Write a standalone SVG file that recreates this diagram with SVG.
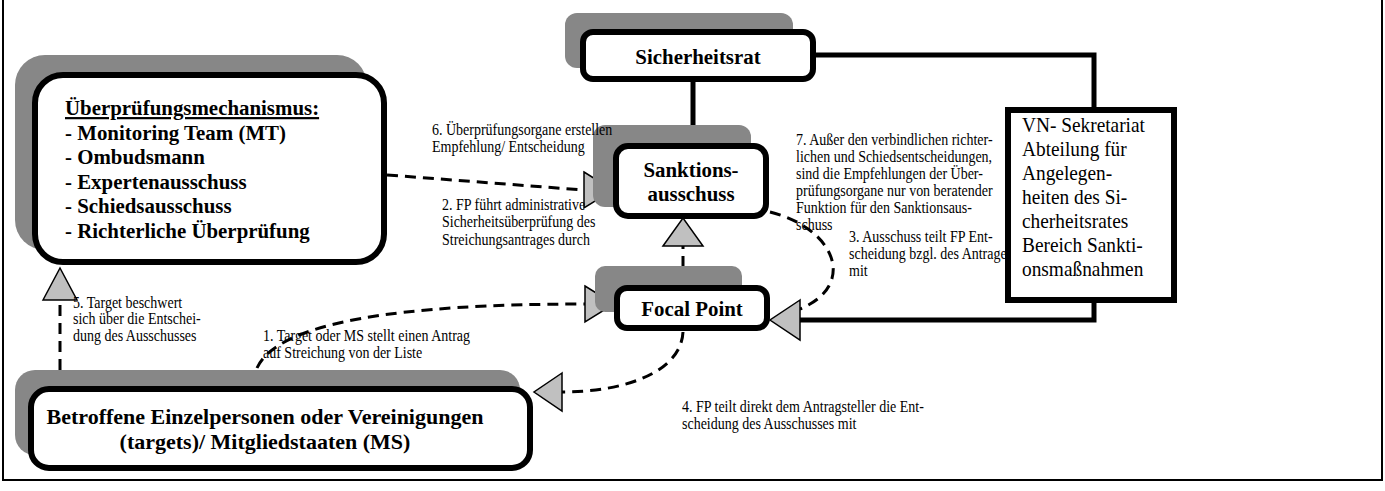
<svg xmlns="http://www.w3.org/2000/svg" width="1385" height="491" viewBox="0 0 1385 491">
<style>
.shadow{fill:#878787;stroke:none}
.box{fill:#fff;stroke:#000;stroke-width:6}
.bt{font-family:"Liberation Serif","Times New Roman","DejaVu Serif",serif;font-weight:bold;font-size:22px;fill:#000}
.rt{font-family:"Liberation Serif","Times New Roman","DejaVu Serif",serif;font-size:21.5px;fill:#000}
.lb{font-family:"Liberation Serif","Times New Roman","DejaVu Serif",serif;font-size:16px;fill:#000}
.solid{fill:none;stroke:#000;stroke-width:5}
.dash{fill:none;stroke:#000;stroke-width:3;stroke-dasharray:11 7}
.arr{fill:#c0c0c0;stroke:#000;stroke-width:1.5;stroke-linejoin:miter}
.frame{fill:none;stroke:#000;stroke-width:2}
</style>
<rect width="1385" height="491" fill="#fff"/>
<polyline class="frame" points="3,0 3,480 1382,480 1382,0"/>

<g id="connectors">
  <!-- Sicherheitsrat to Sanktionsausschuss -->
  <line class="solid" x1="693" y1="80" x2="693" y2="127"/>
  <!-- Sicherheitsrat to VN -->
  <polyline class="solid" points="815,55 1094,55 1094,110"/>
  <!-- VN to Focal Point -->
  <polyline class="solid" points="1094,300 1094,320 800,320"/>
  <!-- 6: Überprüfung to Sanktions -->
  <path class="dash" d="M387,175 L584,190"/>
  <polygon class="arr" points="584,172 613,190 584,208"/>
  <!-- 2: Focal to Sanktions -->
  <line class="dash" x1="683" y1="267" x2="683" y2="246"/>
  <polygon class="arr" points="663,246 683,218 703,246"/>
  <!-- 3: Sanktions to Focal -->
  <path class="dash" d="M770,212 C835,228 858,285 800,309"/>
  <polygon class="arr" points="800,300 770,320 800,340"/>
  <!-- 1: Betroffene to Focal -->
  <path class="dash" d="M257,368 C278,322 400,304 585,304"/>
  <polygon class="arr" points="585,286 614,304 585,322"/>
  <!-- 4: Focal to Betroffene -->
  <path class="dash" d="M683,332 C681,372 625,392 562,392"/>
  <polygon class="arr" points="562,373 534,392 562,411"/>
  <!-- 5: Betroffene to Überprüfung -->
  <line class="dash" x1="60" y1="370" x2="60" y2="300"/>
  <polygon class="arr" points="43,300 60,268 77,300"/>
</g>

<g id="node-ueberpruefung">
  <rect class="shadow" x="15" y="55" width="352" height="195" rx="30"/>
  <rect class="box" x="35" y="75" width="349" height="187" rx="28"/>
  <g transform="translate(65,0) scale(0.95,1)">
    <text class="bt"><tspan x="0" y="115" text-decoration="underline">Überprüfungsmechanismus:</tspan><tspan x="0" y="140">- Monitoring Team (MT)</tspan><tspan x="0" y="164.5">- Ombudsmann</tspan><tspan x="0" y="189">- Expertenausschuss</tspan><tspan x="0" y="213.5">- Schiedsausschuss</tspan><tspan x="0" y="238">- Richterliche Überprüfung</tspan></text>
  </g>
</g>

<g id="node-sicherheitsrat">
  <rect class="shadow" x="565" y="13" width="228" height="55" rx="12"/>
  <rect class="box" x="583" y="32" width="230" height="47" rx="10"/>
  <g transform="translate(698,0) scale(0.95,1)">
    <text class="bt" text-anchor="middle" x="0" y="64">Sicherheitsrat</text>
  </g>
</g>

<g id="node-sanktionsausschuss">
  <rect class="shadow" x="593" y="125" width="158" height="82" rx="12"/>
  <rect class="box" x="616" y="146" width="150" height="70" rx="12"/>
  <g transform="translate(691,0) scale(0.95,1)">
    <text class="bt" text-anchor="middle"><tspan x="0" y="177">Sanktions-</tspan><tspan x="0" y="201">ausschuss</tspan></text>
  </g>
</g>

<g id="node-focal">
  <rect class="shadow" x="595" y="266" width="147" height="46" rx="10"/>
  <rect class="box" x="617" y="288" width="150" height="40" rx="10"/>
  <g transform="translate(692,0) scale(0.95,1)">
    <text class="bt" text-anchor="middle" x="0" y="316">Focal Point</text>
  </g>
</g>

<g id="labels">
  <g transform="translate(432,0) scale(0.875,1)">
    <text class="lb"><tspan x="0" y="135">6. Überprüfungsorgane erstellen</tspan><tspan x="0" y="152">Empfehlung/ Entscheidung</tspan></text>
  </g>
  <g transform="translate(796,0) scale(0.875,1)">
    <text class="lb"><tspan x="0" y="145">7. Außer den verbindlichen richter-</tspan><tspan x="0" y="162">lichen und Schiedsentscheidungen,</tspan><tspan x="0" y="179">sind die Empfehlungen der Über-</tspan><tspan x="0" y="196">prüfungsorgane nur von beratender</tspan><tspan x="0" y="213">Funktion für den Sanktionsaus-</tspan><tspan x="0" y="230">schuss</tspan></text>
  </g>
  <g transform="translate(442,0) scale(0.875,1)">
    <text class="lb"><tspan x="0" y="210">2. FP führt administrative</tspan><tspan x="0" y="227.5">Sicherheitsüberprüfung des</tspan><tspan x="0" y="245">Streichungsantrages durch</tspan></text>
  </g>
  <g transform="translate(849,0) scale(0.875,1)">
    <text class="lb"><tspan x="0" y="242">3. Ausschuss teilt FP Ent-</tspan><tspan x="0" y="259">scheidung bzgl. des Antrages</tspan><tspan x="0" y="276">mit</tspan></text>
  </g>
  <g transform="translate(73,0) scale(0.875,1)">
    <text class="lb"><tspan x="0" y="308">5. Target beschwert</tspan><tspan x="0" y="324.5">sich über die Entschei-</tspan><tspan x="0" y="341">dung des Ausschusses</tspan></text>
  </g>
  <g transform="translate(263,0) scale(0.875,1)">
    <text class="lb"><tspan x="0" y="341">1. Target oder MS stellt einen Antrag</tspan><tspan x="0" y="358">auf Streichung von der Liste</tspan></text>
  </g>
  <g transform="translate(682,0) scale(0.875,1)">
    <text class="lb"><tspan x="0" y="412">4. FP teilt direkt dem Antragsteller die Ent-</tspan><tspan x="0" y="429">scheidung des Ausschusses mit</tspan></text>
  </g>
</g>

<g id="node-vn">
  <rect class="box" x="1008" y="110" width="166" height="190"/>
  <g transform="translate(1022,0) scale(0.9,1)">
    <text class="rt"><tspan x="0" y="132">VN- Sekretariat</tspan><tspan x="0" y="156">Abteilung für</tspan><tspan x="0" y="180">Angelegen-</tspan><tspan x="0" y="204">heiten des Si-</tspan><tspan x="0" y="228">cherheitsrates</tspan><tspan x="0" y="252">Bereich Sankti-</tspan><tspan x="0" y="276">onsmaßnahmen</tspan></text>
  </g>
</g>

<g id="node-betroffene">
  <rect class="shadow" x="15" y="370" width="505" height="85" rx="20"/>
  <rect class="box" x="31" y="389" width="499" height="79" rx="18"/>
  <text class="bt" text-anchor="middle"><tspan x="265" y="424">Betroffene Einzelpersonen oder Vereinigungen</tspan><tspan x="265" y="449">(targets)/ Mitgliedstaaten (MS)</tspan></text>
</g>
</svg>
